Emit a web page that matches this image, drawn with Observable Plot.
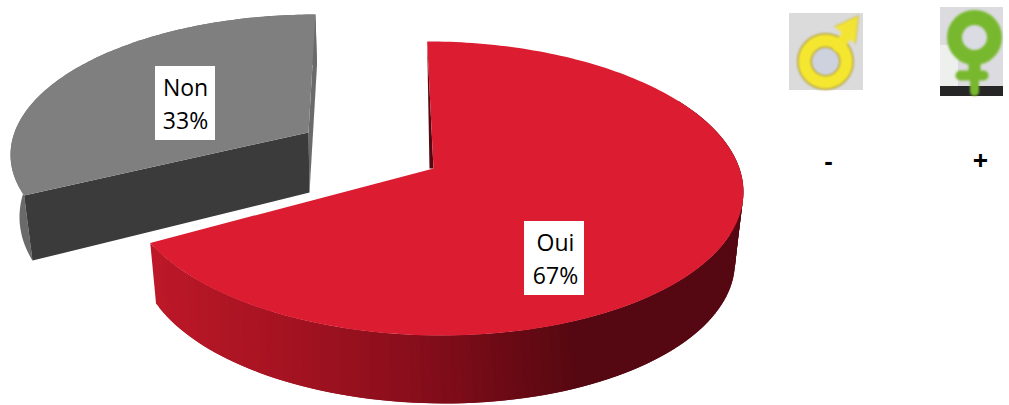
<!DOCTYPE html>
<html><head><meta charset="utf-8">
<script src="https://cdn.jsdelivr.net/npm/d3@7"></script>
<script src="https://cdn.jsdelivr.net/npm/@observablehq/plot@0.6"></script>
<style>html,body{margin:0;padding:0;background:#fff;overflow:hidden}svg{display:block}.soft{filter:blur(0.9px)}</style>
</head><body>
<script>
const categories = ["Oui", "Non"];
const shares = [67, 33];
const percentLabels = ["67%", "33%"];
const scaleLabels = ["-", "+"];
const startAngle = 0;

const sweep = shares.map(s => s * 3.6);
const ouiRange = [startAngle, startAngle + sweep[0]];
const nonRange = [ouiRange[1] + 2.6, ouiRange[1] + sweep[1]];

// Tilted-disc projection
const proj = (deg, p) => {
  const t = deg * Math.PI / 180, u = Math.sin(t), v = -Math.cos(t), d = 1 - p.k * v;
  const x = p.A * u / d, y = p.B * v / d;
  return {x: p.cx + x + (p.s || 0) * y, y: p.cy + y};
};
const ouiTop = {cx: 433, cy: 168, A: 306, B: 144.3, k: 0.136, s: 0.05};
const ouiBot = {cx: 435, cy: 228.6, A: 292, B: 139.5, k: 0.2, s: 0.05};
const nonTop = {cx: 308, cy: 132, A: 294, B: 134, k: 0.136, s: -0.059};
const nonBot = {cx: 309, cy: 192, A: 286, B: 145, k: 0.136, s: -0.059};

const steps = (a, b, n) => d3.range(n + 1).map(i => a + (b - a) * i / n);
const arc = (a, b, p, n = 120) => steps(a, b, n).map(d => proj(d, p));
const poly = (pts, id, fill) => pts.map(q => ({...q, id, fill}));

const wallX = [155, 300, 400, 500, 570, 745];
const wallC = ["#bc1828", "#a11220", "#8a0e1c", "#6c0a15", "#560812", "#560812"];
const wallColor = d3.scaleLinear().domain(wallX).range(wallC);

// Side of the red slice: thin bands, each overlapping the next so no seams show.
const ouiWall = [];
const wallAngles = steps(60, ouiRange[1], 110);
wallAngles.slice(0, -1).forEach((a, i) => {
  const b = wallAngles[i + 1];
  const b2 = wallAngles[Math.max(0, i - 1)];
  const q = [proj(b2, ouiTop), proj(b, ouiTop), proj(b, ouiBot), proj(b2, ouiBot)];
  ouiWall.push(...poly(q, "w" + i, wallColor(d3.mean(q, p => p.x))));
});
const ouiApex = {x: ouiTop.cx, y: ouiTop.cy};
const ouiStart = proj(ouiRange[0], ouiTop);
const ouiInner = poly([ouiStart, ouiApex, {x: ouiApex.x - 4, y: ouiApex.y}], "inner", "#560812");
const ouiFace = poly([ouiApex, ...arc(ouiRange[0], ouiRange[1], ouiTop, 200)], "oface", "#dc1c30");

const nonApex = {x: nonTop.cx, y: nonTop.cy};
const nonApexB = {x: nonBot.cx, y: nonBot.cy};
const nonOuter = poly([...arc(nonRange[0], nonRange[1], nonTop), ...arc(nonRange[0], nonRange[1], nonBot).reverse()], "nouter", "#6a6a6a");
const nonSide = poly([proj(nonRange[1], nonTop), proj(nonRange[1], nonBot), nonApexB, nonApex], "nside", "#6a6a6a");
const nonFront = poly([proj(nonRange[0], nonTop), nonApex, nonApexB, proj(nonRange[0], nonBot)], "nfront", "#3b3b3b");
const nonFace = poly([nonApex, ...arc(nonRange[0], nonRange[1], nonTop, 120)], "nface", "#7f7f7f");

const pieces = [...nonOuter, ...nonSide, ...nonFront, ...nonFace, ...ouiWall, ...ouiInner, ...ouiFace];

const labelBoxes = [
  {x1: 524, x2: 584, y1: 221, y2: 295, name: categories[0], pct: percentLabels[0], cx: 555},
  {x1: 155, x2: 215, y1: 66, y2: 140, name: categories[1], pct: percentLabels[1], cx: 185}
];

const iconBacks = [
  {x1: 789, x2: 863, y1: 13, y2: 90, fill: "#dbdbdc"},
  {x1: 940, x2: 1003, y1: 7, y2: 96, fill: "#dcdce0"},
  {x1: 940, x2: 958, y1: 45, y2: 86, fill: "#eef0ee"},
  {x1: 940, x2: 1003, y1: 86, y2: 96, fill: "#262626"}
];
const marsHead = [{x:834,y:26},{x:858,y:15},{x:855,y:43}];
const marsStem = [{x:838,y:46},{x:849,y:31}];
const softMark = {className: "soft"};

const lab = {fontFamily: "Open Sans", fontSize: 23, fill: "#000"};
const chart = Plot.plot({
  width: 1009, height: 405, margin: 0,
  x: {domain: [0, 1009], range: [0, 1009], axis: null},
  y: {domain: [0, 405], range: [0, 405], axis: null},
  color: {type: "identity"},
  style: {background: "#fff"},
  marks: [
    Plot.line(pieces, {x: "x", y: "y", z: "id", fill: "fill"}),
    Plot.rect(labelBoxes, {x1: "x1", x2: "x2", y1: "y1", y2: "y2", fill: "#fff"}),
    Plot.text(labelBoxes, {x: "cx", y: d => d.y1 + 22, text: "name", ...lab}),
    Plot.text(labelBoxes, {x: "cx", y: d => d.y1 + 55, text: "pct", ...lab}),
    Plot.rect(iconBacks, {x1: "x1", x2: "x2", y1: "y1", y2: "y2", fill: "fill"}),
    // Mars icon
    Plot.dot([{x: 825, y: 61}], {x: "x", y: "y", r: 21, stroke: "#b9ab55", strokeWidth: 15, fill: "#ced2df", ...softMark}),
    Plot.line(marsStem, {x: "x", y: "y", stroke: "#f3e433", strokeWidth: 11, ...softMark}),
    Plot.line(marsHead, {x: "x", y: "y", fill: "#f3e433", stroke: "#c9bc5a", strokeWidth: 1, ...softMark}),
    Plot.dot([{x: 825, y: 61}], {x: "x", y: "y", r: 21, stroke: "#f5e62f", strokeWidth: 12, fill: "none", ...softMark}),
    // Venus icon
    Plot.line([{x: 974, y: 60}, {x: 974, y: 70}], {x: "x", y: "y", stroke: "#78b82e", strokeWidth: 12, ...softMark}),
    Plot.line([{x: 974, y: 70}, {x: 974, y: 91}], {x: "x", y: "y", stroke: "#78b82e", strokeWidth: 9, ...softMark}),
    Plot.line([{x: 960, y: 75}, {x: 983, y: 75}], {x: "x", y: "y", stroke: "#78b82e", strokeWidth: 10, ...softMark}),
    Plot.dot([{x: 974, y: 37}], {x: "x", y: "y", r: 20, stroke: "#78b82e", strokeWidth: 15, fill: "#dbdbe3", ...softMark}),
    Plot.text([scaleLabels[0]], {x: 828, y: 161, text: d => d, fontFamily: "Open Sans", fontWeight: 700, fontSize: 25, fill: "#000"}),
    Plot.text([scaleLabels[1]], {x: 980, y: 161, text: d => d, fontFamily: "Open Sans", fontWeight: 700, fontSize: 27, fill: "#000"})
  ]
});
document.body.append(chart);
</script>
</body></html>
